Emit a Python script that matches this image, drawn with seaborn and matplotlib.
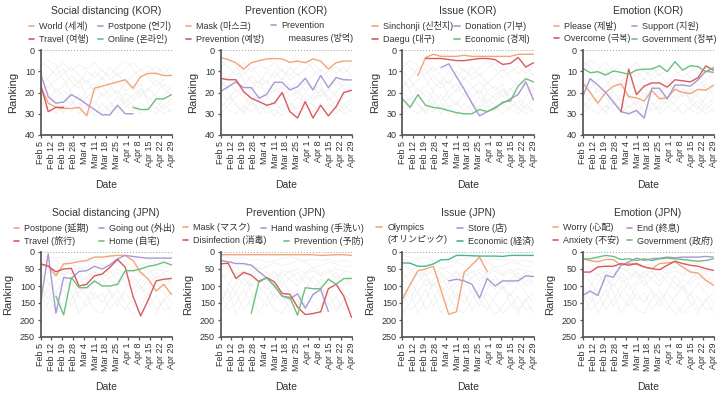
import numpy as np
import pandas as pd
import matplotlib
matplotlib.use("Agg")
import matplotlib.pyplot as plt
from matplotlib.lines import Line2D
from matplotlib.legend import Legend
import seaborn as sns

nan = np.nan

# x axis: 18 observations, 13 labelled ticks
n_obs = 18
tick_labels = ["Feb 5", "Feb 12", "Feb 19", "Feb 28", "Mar 4", "Mar 11", "Mar 18",
               "Mar 25", "Apr 1", "Apr 8", "Apr 15", "Apr 22", "Apr 29"]

# ---- KOR ----
world = [17, 25, 27, 27.5, 27.5, 27, 31, 18, 17, 16, 15, 14, 18, 12.5, 11, 11, 12, 12]
travel_k = [16, 29, 27, 27] + [nan] * 14
postpone_k = [11, 22, 25, 24.5, 21, 23, 25.5, 28, 30.5, 30.5, 26, 30, 30] + [nan] * 5
online = [nan] * 12 + [27, 28, 28, 23, 23, 21]

mask_k = [3.5, 4.5, 6, 9, 6, 5, 4.2, 4, 4.2, 5.8, 5.2, 6, 4.2, 5.2, 9, 6, 5.2, 5.2]
prevention_k = [13.3, 14, 14, 19.6, 22.7, 24.3, 26, 25, 20, 29, 32, 24.3, 32, 26, 31, 26.7, 20, 19]
measures_k = [19.6, 17.3, 15, 17.7, 17.7, 22.7, 20.9, 15.2, 15.2, 18.8, 17.3, 13.3, 18.8, 12, 17.7, 13, 14, 14.1]

sinchonji = [nan, nan, 12, 3.5, 2, 3, 3, 3, 2.5, 3, 3, 3, 3, 3, 3, 2, 2, 2]
daegu = [nan, nan, nan, 4, 4, 4, 4.5, 5, 5, 4.5, 4, 4, 4.5, 6.8, 6.3, 3.5, 8, 6]
donation = [nan] * 5 + [8.3, 6.5, 12.5, 18.5, 25, 31, 29, 27, 25, 23, 21, 15, 23.5]
economic_k = [23, 27, 21, 26, 27, 27.5, 28.5, 29.5, 30, 30, 28, 29, 27.5, 24.5, 24, 17, 13.5, 15]

please = [15.5, 20, 25, 20, 17, 16, 22, 22.5, 24, 19, 23, 22.5, 18.5, 20, 20.5, 18.5, 19, 16.5]
support = [22, 13.5, 16.5, 20, 24.5, 29, 30, 28.5, 32, 18, 18, 23, 16.5, 16.5, 17, 14, 10, 10.5]
overcome = [nan] * 5 + [29, 9, 21, 17, 15.5, 15.5, 17.5, 14, 14.5, 15, 13, 7.5, 9.5]
government_k = [8.5, 10.7, 10.2, 11.8, 9.9, 10.5, 11.5, 9.4, 9, 9, 7.4, 10.2, 5.5, 9.4, 7.4, 7.8, 10.2, 8.3]

# ---- JPN ----
postpone_j = [35, 40, 70, 35, 33, 28, 25, 15, 15, 12, 10, 10, 25, 60, 80, 115, 95, 125]
travel_j = [35, 42, 58, 50, 48, 100, 95, 70, 65, 45, 22, 45, 130, 188, 140, 85, 80, 78]
going_out = [150, 5, 180, 75, 78, 57, 55, 42, 50, 38, 20, 10, 13, 16, 18, 18, 18, 18]
home = [nan, nan, 130, 185, 75, 105, 105, 85, 100, 100, 95, 55, 55, 50, 42, 38, 30, 38]

mask_j = [8, 8, 8, 8, 8, 8, 8, 8, 8, 8, 8, 8, 8, 10, 9, 8, 8, 10]
hand_washing = [25, 29, 34, 34, 39, 58, 76, 100, 130, 138, 123, 165, 125, 110, 175, nan, nan, nan]
disinfection = [35, 33, 78, 60, 68, 88, 75, 88, 122, 124, 162, 184, 181, 176, 108, 95, 130, 192]
prevention_j = [nan] * 4 + [180, 85, 76, 100, 130, 133, 186, 105, 108, 108, 80, 95, 78, 78]

olympics = [138, 95, 55, 50, 42, 112, 183, 176, 60, 38, 15, 58] + [nan] * 6
store = [nan] * 6 + [85, 80, 85, 95, 135, 78, 100, 85, 85, 85, 70, 72]
economic_j = [32, 33, 42, 42, 35, 23, 22, 10, 10, 11, 12, 12, 12, 13, 10, 10, 10, 10]

worry = [20, 25, 29, 22, 22, 39, 34, 36, 44, 49, 34, 32, 29, 44, 59, 62, 83, 98]
anxiety = [59, 59, 44, 42, 42, 34, 39, 34, 44, 49, 52, 39, 27, 34, 39, 42, 49, 54]
end_j = [128, 115, 128, 69, 74, 39, 29, 18, 25, 20, 18, 15, 17, 15, 15, 15, 13, 15]
government_j = [20, 20, 15, 10, 13, 22, 20, 25, 20, 25, 20, 18, 20, 22, 25, 27, 25, 20]

# other keywords (grey background lines), rough reading
bg_kor = [
    [5, 8, 12, 9, 15, 18, 14, 20, 17, 22, 19, 25, 21, 18, 24, 20, 16, 19],
    [20, 24, 18, 22, 26, 21, 27, 24, 29, 25, 28, 23, 26, 30, 27, 24, 28, 25],
    [10, 14, 20, 17, 12, 16, 10, 13, 9, 14, 11, 16, 12, 9, 13, 17, 14, 11],
    [28, 22, 25, 30, 24, 28, 22, 26, 20, 24, 30, 27, 24, 21, 18, 22, 26, 23],
    [15, 18, 14, 11, 8, 12, 16, 10, 14, 8, 12, 9, 6, 10, 7, 11, 8, 12],
    [24, 28, 30, 26, 29, 25, 30, 28, 31, 27, 22, 26, 29, 25, 28, 30, 26, 29],
    [8, 5, 7, 14, 20, 24, 19, 16, 22, 18, 15, 19, 17, 22, 19, 14, 18, 21],
    [18, 13, 9, 6, 10, 7, 9, 6, 10, 12, 8, 5, 9, 13, 10, 8, 11, 7],
    [30, 26, 22, 19, 23, 30, 26, 31, 25, 29, 26, 20, 23, 19, 22, 27, 30, 28],
    [12, 20, 26, 29, 18, 14, 22, 19, 13, 17, 21, 15, 19, 16, 25, 28, 22, 17],
]
bg_jpn = [
    [60, 90, 120, 80, 100, 70, 110, 90, 60, 80, 100, 70, 90, 110, 80, 60, 90, 70],
    [150, 110, 180, 140, 90, 130, 160, 120, 150, 110, 140, 170, 130, 100, 150, 180, 140, 120],
    [20, 30, 25, 40, 35, 50, 45, 30, 40, 35, 25, 30, 45, 40, 30, 35, 45, 40],
    [100, 140, 90, 60, 120, 180, 140, 100, 80, 120, 160, 110, 70, 100, 130, 90, 120, 150],
    [40, 50, 70, 55, 65, 45, 60, 75, 55, 60, 50, 65, 55, 70, 60, 50, 55, 60],
    [180, 150, 120, 170, 140, 100, 130, 170, 180, 140, 110, 150, 185, 160, 120, 170, 140, 180],
    [80, 60, 40, 70, 50, 90, 75, 55, 100, 75, 60, 90, 110, 80, 95, 70, 100, 85],
    [120, 170, 150, 110, 160, 120, 90, 140, 120, 170, 140, 120, 150, 180, 160, 130, 170, 160],
    [10, 15, 20, 15, 25, 20, 30, 25, 20, 15, 20, 25, 20, 25, 20, 30, 25, 30],
    [140, 100, 60, 100, 80, 60, 85, 60, 75, 55, 85, 60, 45, 65, 50, 80, 60, 100],
]

ORANGE = "#f2a47c"
RED = "#d9595c"
PURPLE = "#a998d4"
GREEN = "#6cc07c"
TEAL = "#45b98f"

# panel: title, background, entries (label, values, colour), legend blocks (x offset px, row, entries)
panels = [
    ("Social distancing (KOR)", "KOR",
     [("World (세계)", world, ORANGE), ("Postpone (연기)", postpone_k, PURPLE),
      ("Travel (여행)", travel_k, RED), ("Online (온라인)", online, GREEN)],
     [(-12, 0, [0, 2]), (57, 0, [1, 3])]),
    ("Prevention (KOR)", "KOR",
     [("Mask (마스크)", mask_k, ORANGE), ("Prevention\n   measures (방역)", measures_k, PURPLE),
      ("Prevention (예방)", prevention_k, RED)],
     [(-35, 0, [0, 2]), (50, 0, [1])]),
    ("Issue (KOR)", "KOR",
     [("Sinchonji (신천지)", sinchonji, ORANGE), ("Donation (기부)", donation, PURPLE),
      ("Daegu (대구)", daegu, RED), ("Economic (경제)", economic_k, GREEN)],
     [(-30, 0, [0, 2]), (52, 0, [1, 3])]),
    ("Emotion (KOR)", "KOR",
     [("Please (제발)", please, ORANGE), ("Support (지원)", support, PURPLE),
      ("Overcome (극복)", overcome, RED), ("Government (정부)", government_k, GREEN)],
     [(-29, 0, [0, 2]), (49, 0, [1, 3])]),
    ("Social distancing (JPN)", "JPN",
     [("Postpone (延期)", postpone_j, ORANGE), ("Going out (外出)", going_out, PURPLE),
      ("Travel (旅行)", travel_j, RED), ("Home (自宅)", home, GREEN)],
     [(-27, 0, [0, 2]), (58, 0, [1, 3])]),
    ("Prevention (JPN)", "JPN",
     [("Mask (マスク)", mask_j, ORANGE), ("Hand washing (手洗い)", hand_washing, PURPLE),
      ("Disinfection (消毒)", disinfection, RED), ("Prevention (予防)", prevention_j, GREEN)],
     [(-38, 0, [0, 2]), (40, 0, [1]), (63, 1, [3])]),
    ("Issue (JPN)", "JPN",
     [("Olympics\n(オリンピック)", olympics, ORANGE), ("Store (店)", store, PURPLE),
      ("Economic (経済)", economic_j, TEAL)],
     [(-26, 0, [0]), (55, 0, [1, 2])]),
    ("Emotion (JPN)", "JPN",
     [("Worry (心配)", worry, ORANGE), ("End (終息)", end_j, PURPLE),
      ("Anxiety (不安)", anxiety, RED), ("Government (政府)", government_j, GREEN)],
     [(-30, 0, [0, 2]), (44, 0, [1, 3])]),
]

sns.set_theme(style="ticks")
plt.rcParams["font.family"] = ["Liberation Sans", "Noto Sans CJK JP", "Noto Sans CJK KR"]
plt.rcParams["axes.edgecolor"] = "#555555"
plt.rcParams["xtick.color"] = "#555555"
plt.rcParams["ytick.color"] = "#555555"
plt.rcParams["xtick.labelcolor"] = "#333333"
plt.rcParams["ytick.labelcolor"] = "#333333"

W, H = 719, 394
fig = plt.figure(figsize=(W / 100, H / 100), dpi=100)

lefts = [40.5, 220.5, 402.5, 582.5]
tops = [50, 252]
ax_w, ax_h = 131, 85
x_idx = np.arange(n_obs)

for k, (title, country, entries, blocks) in enumerate(panels):
    row, col = divmod(k, 4)
    ax = fig.add_axes([lefts[col] / W, 1 - (tops[row] + ax_h) / H, ax_w / W, ax_h / H])

    bg = bg_kor if country == "KOR" else bg_jpn
    bg_df = pd.DataFrame({
        "date": np.tile(x_idx, len(bg)),
        "rank": np.concatenate(bg),
        "line": np.repeat(np.arange(len(bg)), n_obs),
    })
    sns.lineplot(data=bg_df, x="date", y="rank", units="line", estimator=None,
                 color="#ececec", lw=0.45, ax=ax, legend=False)

    ax.axhline(0, color="#aaaaaa", ls=":", lw=0.8, zorder=1)

    df = pd.DataFrame({
        "date": np.tile(x_idx, len(entries)),
        "rank": np.concatenate([e[1] for e in entries]),
        "keyword": np.repeat([e[0] for e in entries], n_obs),
    })
    pal = {e[0]: e[2] for e in entries}
    sns.lineplot(data=df, x="date", y="rank", hue="keyword", palette=pal,
                 hue_order=[e[0] for e in entries], estimator=None, lw=1.0,
                 ax=ax, legend=False)

    ymax = 40 if country == "KOR" else 250
    ax.set_ylim(ymax, 0)
    ax.set_yticks(np.arange(0, ymax + 1, 10 if country == "KOR" else 50))
    ax.set_xlim(0, n_obs - 1)
    ax.set_xticks(np.linspace(0, n_obs - 1, len(tick_labels)))
    ax.set_xticklabels(tick_labels, rotation=90)
    ax.tick_params(labelsize=6.5, length=2.5, width=0.9, pad=1.5)
    sns.despine(ax=ax)
    ax.set_xlabel("Date", fontsize=7.5, labelpad=8.5, color="#333333")
    ax.set_ylabel("Ranking", fontsize=8, labelpad=5, color="#333333")
    ax.set_title(title, fontsize=7.5, pad=26, color="#333333")

    for x_off, r0, idxs in blocks:
        # a two-line label gets its handle on the first line only
        handles, labels = [], []
        for i in idxs:
            for j, line in enumerate(entries[i][0].split("\n")):
                handles.append(Line2D([], [], color=entries[i][2], lw=1.2,
                                      alpha=1.0 if j == 0 else 0.0))
                labels.append(line)
        leg = Legend(ax, handles, labels, loc="upper left",
                     bbox_to_anchor=(x_off / ax_w, 1 + (29 - 13 * r0) / ax_h),
                     frameon=False, fontsize=6.5, borderpad=0, borderaxespad=0,
                     handlelength=0.6, handletextpad=0.6, labelspacing=0.3)
        for t in leg.get_texts():
            t.set_color("#333333")
        ax.add_artist(leg)

fig.savefig("out.png", dpi=100)
